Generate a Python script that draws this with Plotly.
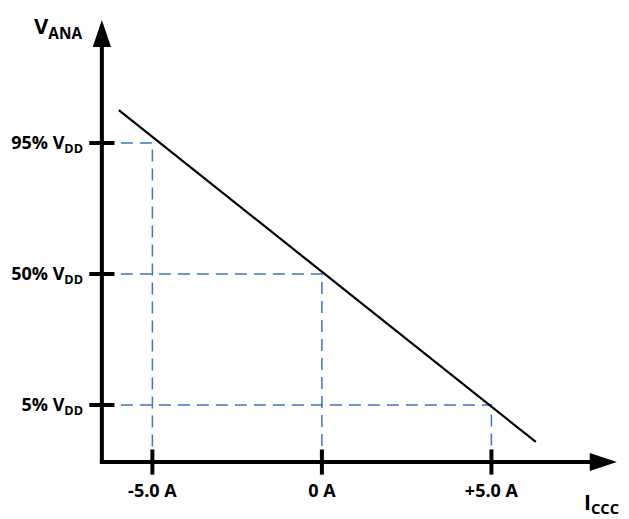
import plotly.graph_objects as go

#_____ DATA _____
current_ticks = [-5.0, 0.0, 5.0]
current_labels = ["-5.0 A", "0 A", "+5.0 A"]
vana_ticks = [95, 50, 5]
vana_labels = ["95% V<sub>DD</sub>", "50% V<sub>DD</sub>", "5% V<sub>DD</sub>"]

# transfer line endpoints (A, % of VDD)
line_i = [-5.99, 6.31]
line_v = [106.3, -7.7]

#_____ LAYOUT CONSTANTS _____
X_AXIS_POS = -14.6   # where the I axis sits (in % VDD)
Y_AXIS_POS = -6.49   # where the V axis sits (in A)
X_TIP = 8.70
Y_TIP = 137.3
X_RANGE = [-6.84, 8.94]
Y_RANGE = [-18.7, 140.7]

BLACK = "#000000"
BLUE = "#4472C4"
FONT = "Open Sans"

fig = go.Figure()

# dashed guides
for i, v in zip(current_ticks, vana_ticks):
    fig.add_trace(go.Scatter(
        x=[Y_AXIS_POS, i, i], y=[v, v, X_AXIS_POS], mode="lines",
        line=dict(color=BLUE, width=1.5, dash="12px,7px"), hoverinfo="skip"))

# transfer line
fig.add_trace(go.Scatter(x=line_i, y=line_v, mode="lines",
                         line=dict(color=BLACK, width=2.2), hoverinfo="skip"))

# axes lines
fig.add_trace(go.Scatter(x=[Y_AXIS_POS - 0.06, X_TIP - 0.7], y=[X_AXIS_POS, X_AXIS_POS],
                         mode="lines", line=dict(color=BLACK, width=4), hoverinfo="skip"))
fig.add_trace(go.Scatter(x=[Y_AXIS_POS, Y_AXIS_POS], y=[X_AXIS_POS, Y_TIP - 8],
                         mode="lines", line=dict(color=BLACK, width=4), hoverinfo="skip"))

# tick marks crossing the axes
fig.add_trace(go.Scatter(x=[Y_AXIS_POS] * len(vana_ticks), y=vana_ticks, mode="markers",
                         marker=dict(symbol="line-ew", size=18, line=dict(color=BLACK, width=4)),
                         hoverinfo="skip", cliponaxis=False))
fig.add_trace(go.Scatter(x=current_ticks, y=[X_AXIS_POS] * len(current_ticks), mode="markers",
                         marker=dict(symbol="line-ns", size=18, line=dict(color=BLACK, width=4)),
                         hoverinfo="skip", cliponaxis=False))

# arrowheads
ah_len_x, ah_half_y = 0.8, 3.1
ah_len_y, ah_half_x = 9.3, 0.27
fig.add_shape(type="path", fillcolor=BLACK, line=dict(width=0),
              path=f"M {X_TIP} {X_AXIS_POS} L {X_TIP - ah_len_x} {X_AXIS_POS + ah_half_y} "
                   f"L {X_TIP - ah_len_x} {X_AXIS_POS - ah_half_y} Z")
fig.add_shape(type="path", fillcolor=BLACK, line=dict(width=0),
              path=f"M {Y_AXIS_POS} {Y_TIP} L {Y_AXIS_POS - ah_half_x} {Y_TIP - ah_len_y} "
                   f"L {Y_AXIS_POS + ah_half_x} {Y_TIP - ah_len_y} Z")

# axis titles
fig.add_annotation(x=0.0, y=1.0, xref="paper", yref="paper", xanchor="right", yanchor="top",
                   xshift=-6, yshift=2, showarrow=False,
                   text="V<sub>ANA</sub>", font=dict(family=FONT, size=22, color=BLACK, weight="bold"))
fig.add_annotation(x=1.0, y=0.0, xref="paper", yref="paper", xanchor="right", yanchor="top",
                   xshift=-4, yshift=-12, showarrow=False,
                   text="I<sub>CCC</sub>", font=dict(family=FONT, size=21, color=BLACK, weight="bold"))

# page body has an 8px margin, so the figure is sized to the visible area
fig.update_layout(
    width=621, height=511,
    margin=dict(l=82, r=4, t=2, b=45),
    plot_bgcolor="white", paper_bgcolor="white",
    showlegend=False,
    font=dict(family=FONT, size=18, color=BLACK, weight="bold"),
    xaxis=dict(range=X_RANGE, tickvals=current_ticks, ticktext=current_labels,
               showgrid=False, zeroline=False, showline=False, ticks="",
               ticklabelstandoff=4, automargin=False, fixedrange=True),
    yaxis=dict(range=Y_RANGE, tickvals=vana_ticks, ticktext=vana_labels,
               showgrid=False, zeroline=False, showline=False, ticks="",
               ticklabelstandoff=6, automargin=False, fixedrange=True),
)

fig.write_html("out.html")
